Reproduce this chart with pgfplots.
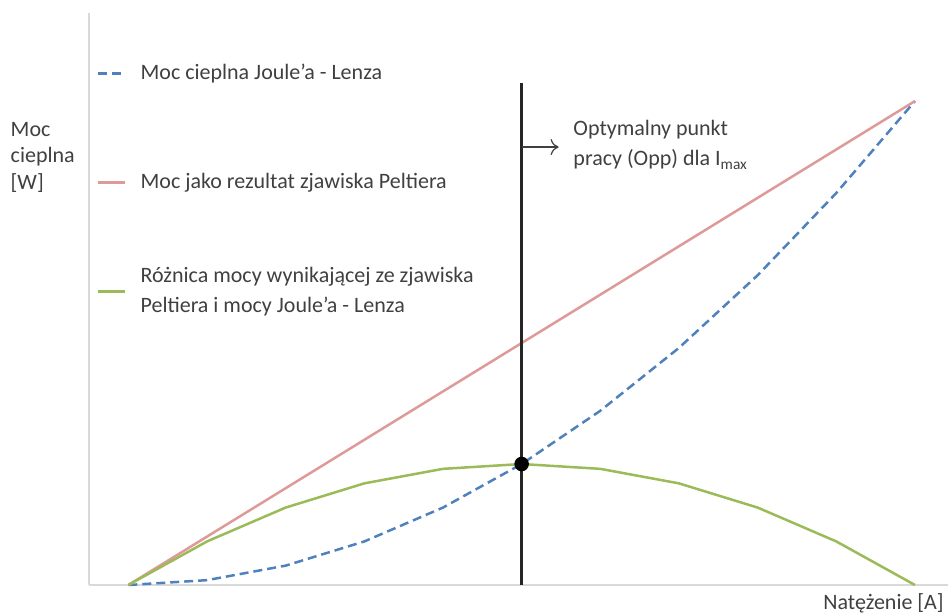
\documentclass[border=0pt]{standalone}
\usepackage{fontspec}
\setmainfont{Carlito}
\usepackage{pgfplots}
\pgfplotsset{compat=1.18}
\usetikzlibrary{arrows.meta}

\definecolor{jblue}{HTML}{4F81BD}
\definecolor{pred}{HTML}{DE9A98}
\definecolor{dgreen}{HTML}{9BBB59}
\definecolor{axgray}{HTML}{D9D9D9}
\definecolor{txt}{HTML}{404040}

\begin{document}
\begin{tikzpicture}
% page frame: 474 x 307.5 pt (reference 948 x 615 px at 0.5 pt/px)
\path[use as bounding box] (-44.5pt,-15pt) rectangle (429.5pt,292.5pt);
\begin{axis}[
    at={(0,0)}, anchor=south west,
    scale only axis,
    width=429.5pt, height=286pt,
    xmin=-0.5, xmax=10.42,
    ymin=0, ymax=118.2,
    axis x line*=bottom, axis y line*=left,
    axis line style={axgray, line width=0.8pt, -},
    xtick=\empty, ytick=\empty,
    clip=false,
    font=\fontsize{11}{15}\selectfont,
    every axis plot/.append style={line width=1.25pt},
    legend style={
        at={(rel axis cs:0.002,0.949)}, anchor=north west,
        draw=none, fill=none,
        font=\fontsize{11}{15}\selectfont,
        text=txt,
        row sep=27.5pt,
        column sep=7pt,
        nodes={minimum height=27pt, inner sep=0pt, align=left},
    },
    legend cell align=left,
    legend image code/.code={\draw[#1] (0pt,0pt) -- (13.5pt,0pt);},
]

% Moc cieplna Joule'a - Lenza
\addplot[jblue, dash pattern=on 4.5pt off 2.5pt] coordinates {
    (0,0) (1,1) (2,4) (3,9) (4,16) (5,25) (6,36) (7,49) (8,64) (9,81) (10,100)
};
\addlegendentry{Moc cieplna Joule’a - Lenza}

% Moc jako rezultat zjawiska Peltiera
\addplot[pred] coordinates {
    (0,0) (10,100)
};
\addlegendentry{Moc jako rezultat zjawiska Peltiera}

% Roznica
\addplot[dgreen] coordinates {
    (0,0) (1,9) (2,16) (3,21) (4,24) (5,25) (6,24) (7,21) (8,16) (9,9) (10,0)
};
\addlegendentry{Różnica mocy wynikającej ze zjawiska\\Peltiera i mocy Joule’a - Lenza}

% optimum
\addplot[black!85, line width=1.3pt, forget plot] coordinates {(5,0) (5,103.7)};
\addplot[black, only marks, mark=*, mark size=3pt, forget plot] coordinates {(5,25)};
\addplot[black!75, line width=0.6pt, -{To[length=4pt,width=8pt]}, forget plot] coordinates {(5,90.5) (5.47,90.5)};

\node[anchor=west, align=left, text=txt, inner sep=0pt, font=\fontsize{11}{15}\selectfont]
    at (axis cs:5.654,90.9) {Optymalny punkt\\pracy (Opp) dla I\textsubscript{max}};
\node[anchor=west, align=left, text=txt, inner sep=0pt, font=\fontsize{11}{13.25}\selectfont]
    at (axis cs:-1.5,88.4) {Moc\\cieplna\\{[W]}};
\node[anchor=east, text=txt, inner sep=0pt]
    at (axis cs:10.37,-3.7) {Natężenie [A]};
\end{axis}
\end{tikzpicture}
\end{document}
